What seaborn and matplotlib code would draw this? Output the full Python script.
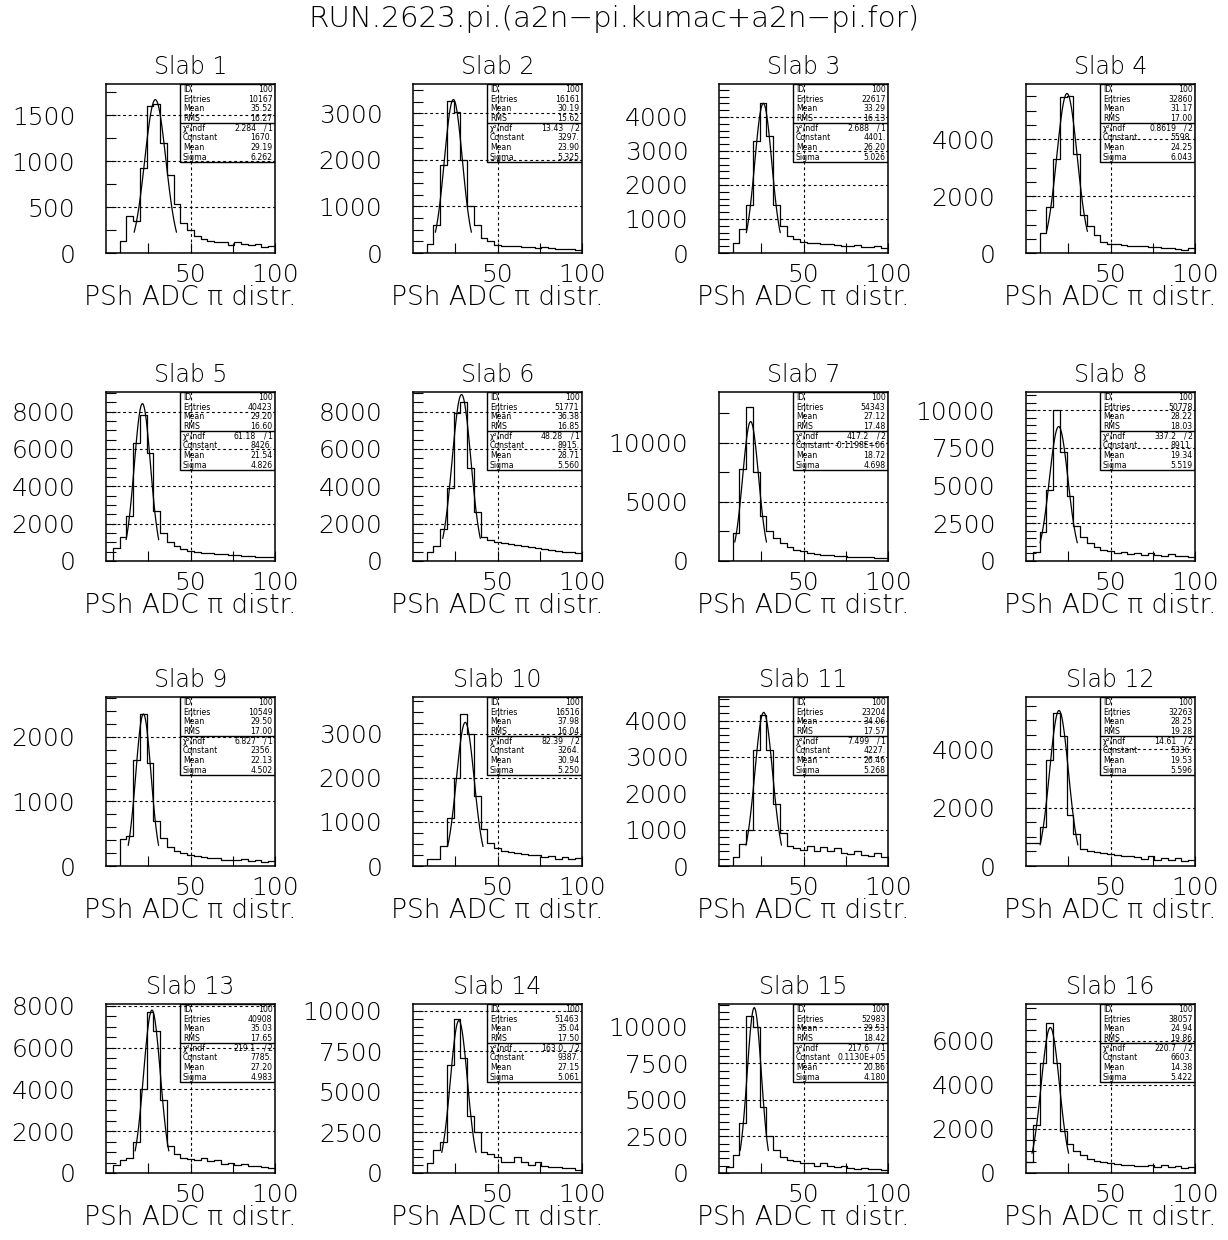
import numpy as np
import pandas as pd
import matplotlib
matplotlib.use("Agg")
import matplotlib.pyplot as plt
from matplotlib.patches import Rectangle
from matplotlib.ticker import MultipleLocator, FixedLocator, FuncFormatter
import seaborn as sns

# 25 bins of width 4 between 0 and 100
bin_width = 4
bin_centers = np.arange(0, 100, bin_width) + bin_width / 2

# bin contents (Slab 1 .. Slab 16)
slab_counts = [
    [0, 0, 128, 400, 350, 930, 1605, 1625, 1200, 850, 530, 330, 245, 190, 150, 130, 125, 120, 90, 120, 95, 85, 95, 70, 80],
    [0, 0, 200, 600, 1900, 3270, 3020, 2000, 1000, 600, 320, 250, 180, 160, 150, 140, 130, 120, 110, 120, 100, 90, 80, 90, 70],
    [0, 0, 300, 700, 1400, 3300, 4400, 3450, 1400, 800, 500, 400, 330, 300, 280, 260, 250, 240, 220, 200, 230, 180, 170, 200, 150],
    [0, 0, 700, 1630, 3310, 5460, 5500, 3490, 1340, 930, 640, 400, 330, 300, 280, 260, 250, 230, 220, 200, 190, 170, 150, 120, 160],
    [0, 700, 1300, 2400, 6300, 7800, 5800, 2700, 1500, 1000, 800, 650, 550, 500, 450, 420, 380, 350, 330, 300, 280, 260, 240, 220, 200],
    [0, 0, 500, 800, 1700, 3900, 7900, 8500, 5000, 2600, 1300, 1100, 1000, 950, 900, 850, 800, 750, 700, 650, 600, 550, 500, 480, 450],
    [0, 0, 2400, 7800, 13050, 7540, 3800, 2540, 1950, 1530, 1190, 960, 820, 700, 600, 550, 500, 450, 400, 380, 350, 320, 330, 280, 260],
    [0, 600, 1900, 4700, 10000, 7200, 4300, 2300, 1600, 1200, 900, 750, 650, 550, 600, 450, 500, 400, 550, 400, 350, 450, 300, 350, 250],
    [0, 0, 420, 460, 1650, 2350, 1600, 700, 430, 300, 240, 200, 170, 150, 140, 130, 120, 100, 100, 90, 110, 80, 90, 60, 70],
    [0, 0, 150, 150, 450, 1100, 2000, 3450, 3000, 1600, 850, 520, 420, 350, 320, 300, 280, 250, 240, 200, 230, 170, 200, 150, 180],
    [0, 0, 250, 600, 1000, 3200, 4150, 3200, 1700, 900, 550, 500, 450, 550, 420, 530, 400, 500, 350, 330, 400, 300, 280, 350, 250],
    [800, 800, 1350, 3630, 5250, 4450, 1750, 1100, 600, 500, 480, 450, 400, 380, 350, 330, 300, 250, 330, 200, 280, 200, 270, 160, 200],
    [0, 400, 600, 700, 1500, 4000, 7700, 6800, 3500, 1300, 900, 700, 650, 600, 700, 550, 600, 450, 500, 400, 450, 350, 350, 300, 250],
    [0, 0, 620, 1400, 1900, 6650, 9470, 7060, 3500, 2500, 1300, 1200, 1000, 700, 700, 1000, 700, 500, 650, 450, 400, 350, 300, 280, 200],
    [0, 400, 1200, 3400, 10700, 10000, 4500, 2500, 1600, 1100, 900, 800, 700, 650, 500, 700, 450, 400, 500, 350, 300, 350, 250, 300, 200],
    [500, 2200, 5000, 6800, 5000, 1900, 1300, 1000, 800, 650, 550, 500, 450, 400, 380, 350, 330, 300, 380, 280, 350, 260, 300, 220, 280],
]

# y axis per panel: top of range, labelled step, small tick step
y_top = [1840, 3630, 4970, 5930, 9050, 9050, 14300, 11200,
         2620, 3840, 4650, 5800, 8080, 10410, 11550, 7670]
y_major = [500, 1000, 1000, 2000, 2000, 2000, 5000, 2500,
           1000, 1000, 1000, 2000, 2000, 2500, 2500, 2000]
y_minor = [250, 250, 200, 500, 500, 500, 2500, 500,
           200, 250, 200, 500, 500, 500, 500, 500]

# statistics boxes
entries = ["10167", "16161", "22617", "32860", "40423", "51771", "54343", "50778",
           "10549", "16516", "23204", "32263", "40908", "51463", "52983", "38057"]
stat_mean = ["35.52", "30.19", "33.29", "31.17", "29.20", "36.38", "27.12", "28.22",
             "29.50", "37.98", "34.06", "28.25", "35.03", "35.04", "29.53", "24.94"]
stat_rms = ["16.27", "15.62", "16.13", "17.00", "16.60", "16.85", "17.48", "18.03",
            "17.00", "16.04", "17.57", "19.28", "17.65", "17.50", "18.42", "19.86"]
chi2 = ["2.284", "13.43", "2.688", "0.8619", "61.18", "48.28", "417.2", "337.2",
        "6.827", "82.39", "7.499", "14.61", "219.1", "163.0", "217.6", "220.7"]
ndf = ["1", "2", "1", "2", "1", "1", "2", "2", "1", "2", "1", "2", "2", "2", "1", "2"]
fit_const = ["1670.", "3297.", "4401.", "5598.", "8426.", "8915.", "-0.1198E+06", "8911.",
             "2356.", "3264.", "4227.", "5336.", "7785.", "9387.", "0.1130E+05", "6603."]
fit_mean = ["29.19", "23.90", "26.20", "24.25", "21.54", "28.71", "18.72", "19.34",
            "22.13", "30.94", "26.46", "19.53", "27.20", "27.15", "20.86", "14.38"]
fit_sigma = ["6.262", "5.325", "5.026", "6.043", "4.826", "5.560", "4.698", "5.519",
             "4.502", "5.250", "5.268", "5.596", "4.983", "5.061", "4.180", "5.422"]
# height of the drawn gaussian (slab 7 constant is printed wrongly in the box)
fit_peak = [1670, 3297, 4401, 5598, 8426, 8915, 11800, 8911,
            2356, 3264, 4227, 5336, 7785, 9387, 11300, 6603]

sns.set_theme(style="ticks")
plt.rcParams["font.family"] = ["DejaVu Sans"]
plt.rcParams["text.color"] = "black"
plt.rcParams["axes.edgecolor"] = "black"
plt.rcParams["xtick.color"] = "black"
plt.rcParams["ytick.color"] = "black"
plt.rcParams["axes.labelcolor"] = "black"

W, H = 1228, 1240
col_left = [106, 413, 719, 1026]
row_top = [84, 392, 697, 1004]
side = 169

fig = plt.figure(figsize=(W / 100, H / 100), dpi=100)
fig.text(0.5, 1 - 19 / H, "RUN.2623.pi.(a2n\u2212pi.kumac+a2n\u2212pi.for)",
         ha="center", va="center", fontsize=21.2, fontweight="light")


def stats_box(ax, i):
    bx0, sep, by0 = 0.44, 0.77, 0.54
    ax.add_patch(Rectangle((bx0, by0), 1 - bx0, 1 - by0, transform=ax.transAxes,
                           fill=False, lw=1.0, ec="black", zorder=5))
    ax.plot([bx0, 1], [sep, sep], transform=ax.transAxes, color="black", lw=1.0, zorder=5)
    step = (1 - sep) / 4
    fs = 5.6
    top_rows = [("ID", "100"), ("Entries", entries[i]), ("Mean", stat_mean[i]), ("RMS", stat_rms[i])]
    for k, (lab, val) in enumerate(top_rows):
        y = 1 - step * (k + 0.55)
        ax.text(bx0 + 0.015, y, lab, transform=ax.transAxes, fontsize=fs, va="center", ha="left", zorder=6)
        ax.text(0.985, y, val, transform=ax.transAxes, fontsize=fs, va="center", ha="right", zorder=6)
    step2 = (sep - by0) / 4
    y = sep - step2 * 0.55
    ax.text(bx0 + 0.015, y, "\u03c7\u00b2/ndf", transform=ax.transAxes, fontsize=fs, va="center", ha="left", zorder=6)
    ax.text(bx0 + 0.56 * 0.80, y, chi2[i], transform=ax.transAxes, fontsize=fs, va="center", ha="right", zorder=6)
    ax.text(bx0 + 0.56 * 0.895, y, "/", transform=ax.transAxes, fontsize=fs, va="center", ha="center", zorder=6)
    ax.text(0.985, y, ndf[i], transform=ax.transAxes, fontsize=fs, va="center", ha="right", zorder=6)
    bottom_rows = [("Constant", fit_const[i]), ("Mean", fit_mean[i]), ("Sigma", fit_sigma[i])]
    for k, (lab, val) in enumerate(bottom_rows):
        y = sep - step2 * (k + 1.55)
        ax.text(bx0 + 0.015, y, lab, transform=ax.transAxes, fontsize=fs, va="center", ha="left", zorder=6)
        ax.text(0.985, y, val, transform=ax.transAxes, fontsize=fs, va="center", ha="right", zorder=6)


for i in range(16):
    r, c = divmod(i, 4)
    ax = fig.add_axes([col_left[c] / W, 1 - (row_top[r] + side) / H, side / W, side / H])

    hist_df = pd.DataFrame({"adc": bin_centers, "n": slab_counts[i]})
    sns.histplot(data=hist_df, x="adc", weights="n", binwidth=bin_width, binrange=(0, 100),
                 element="step", fill=False, color="black", linewidth=0.9, ax=ax, zorder=3)

    # gaussian fit over mean +- 2 sigma
    m, s = float(fit_mean[i]), float(fit_sigma[i])
    xf = np.linspace(m - 2 * s, m + 2 * s, 120)
    yf = fit_peak[i] * np.exp(-0.5 * ((xf - m) / s) ** 2)
    sns.lineplot(x=xf, y=yf, color="black", linewidth=0.9, ax=ax, zorder=4)

    ax.set_xlim(0, 100)
    ax.set_ylim(0, y_top[i])
    ax.set_xticks([50, 100])
    ax.set_xticklabels(["50", "100"])
    ax.xaxis.set_minor_locator(FixedLocator([25, 75]))
    ax.yaxis.set_major_locator(MultipleLocator(y_major[i]))
    ax.yaxis.set_minor_locator(MultipleLocator(y_minor[i]))
    ax.yaxis.set_major_formatter(FuncFormatter(lambda v, p: f"{v:.0f}"))
    ax.tick_params(axis="both", which="both", direction="in", length=7, width=0.8,
                   top=False, right=False)
    ax.tick_params(axis="y", which="major", labelsize=18, pad=22)
    ax.tick_params(axis="x", which="major", labelsize=18, pad=7)
    for lab in ax.get_xticklabels() + ax.get_yticklabels():
        lab.set_fontweight("light")

    ax.grid(True, which="major", color="black", linestyle=(0, (2.5, 2.5)), linewidth=0.8)
    for sp in ax.spines.values():
        sp.set_linewidth(1.1)
        sp.set_visible(True)

    ax.set_title(f"Slab {i + 1}", fontsize=17, pad=7, fontweight="light")
    ax.set_ylabel("")
    ax.set_xlabel("PSh ADC \u03c0 distr.", fontsize=19, fontweight="light")
    ax.xaxis.set_label_coords(0.5, -0.19)

    stats_box(ax, i)

fig.savefig("out.png", dpi=100)
